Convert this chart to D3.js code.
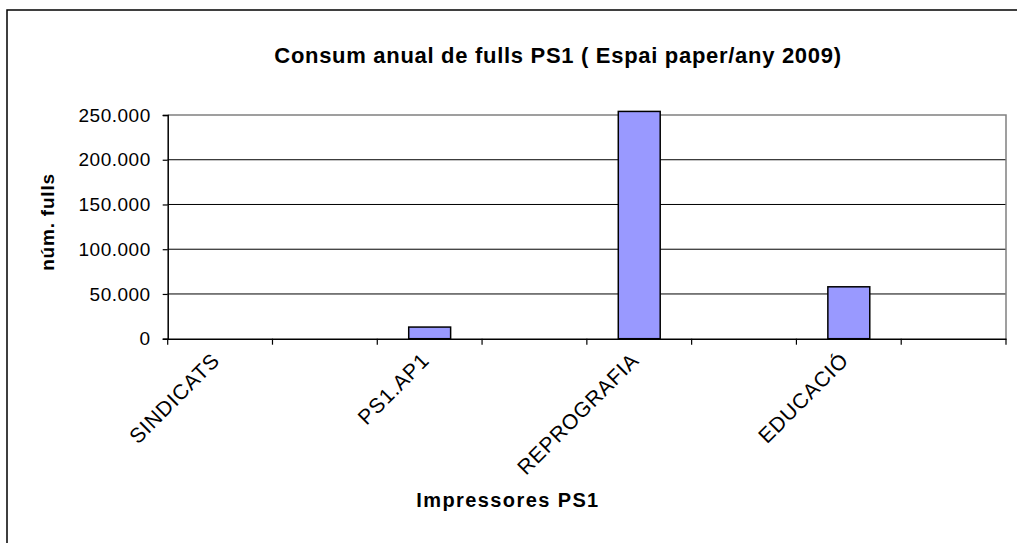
<!DOCTYPE html>
<html>
<head>
<meta charset="utf-8">
<script src="https://cdn.jsdelivr.net/npm/d3@7"></script>
<style>
  html, body { margin: 0; padding: 0; background: #fff; }
  text { font-family: Arial, "Liberation Sans", sans-serif; fill: #000; }
</style>
</head>
<body>
<svg id="chart" width="1017" height="543"></svg>
<script>
// ---- data ----
const categories = ["SINDICATS", "", "PS1.AP1", "", "REPROGRAFIA", "", "EDUCACIÓ", ""];
const values = [0, 0, 13000, 0, 254000, 0, 58000, 0];
const yTicks = [0, 50000, 100000, 150000, 200000, 250000];
const yTickLabels = ["0", "50.000", "100.000", "150.000", "200.000", "250.000"];
const chartTitle = "Consum anual de fulls PS1 ( Espai paper/any 2009)";
const xTitle = "Impressores PS1";
const yTitle = "núm. fulls";

// ---- layout ----
const svg = d3.select("#chart");
const plot = { left: 167.7, right: 1006, top: 115, bottom: 338.7 };

// chart area border
svg.append("rect")
  .attr("x", 7).attr("y", 10)
  .attr("width", 1030).attr("height", 560)
  .attr("fill", "#fff").attr("stroke", "#000").attr("stroke-width", 1.5);

const x = d3.scaleBand()
  .domain(d3.range(categories.length))
  .range([plot.left, plot.right])
  .paddingInner(0).paddingOuter(0);

const y = d3.scaleLinear().domain([0, 250000]).range([plot.bottom, plot.top]);

// gridlines
svg.append("g")
  .selectAll("line")
  .data(yTicks.filter(d => d > 0 && d < 250000))
  .join("line")
  .attr("x1", plot.left).attr("x2", plot.right)
  .attr("y1", d => y(d)).attr("y2", d => y(d))
  .attr("stroke", "#000").attr("stroke-width", 1);

// plot area border (gray top/right)
svg.append("path")
  .attr("d", `M${plot.left},${y(250000)}H${plot.right}V${plot.bottom}`)
  .attr("fill", "none").attr("stroke", "#808080").attr("stroke-width", 1.5);

// bars
const barW = x.bandwidth() / 2.5;
svg.append("g")
  .selectAll("rect")
  .data(values.map((v, i) => ({ v, i })).filter(d => d.v > 0))
  .join("rect")
  .attr("x", d => x(d.i) + (x.bandwidth() - barW) / 2)
  .attr("y", d => y(d.v))
  .attr("width", barW)
  .attr("height", d => y(0) - y(d.v))
  .attr("fill", "#9999FF")
  .attr("stroke", "#000").attr("stroke-width", 1.5);

// y axis
const yAxis = d3.axisLeft(y)
  .tickValues(yTicks)
  .tickFormat((d, i) => yTickLabels[i])
  .tickSize(5).tickPadding(12);
const gy = svg.append("g").attr("transform", `translate(${plot.left},0)`).call(yAxis);
gy.select(".domain").attr("stroke", "#000").attr("stroke-width", 1.5);
gy.selectAll(".tick line").attr("stroke", "#000").attr("stroke-width", 1.2);
gy.selectAll(".tick text")
  .attr("font-size", 19).attr("letter-spacing", 0.5)
  .attr("font-family", "Arial, 'Liberation Sans', sans-serif").attr("fill", "#000");

// x axis line and ticks at category boundaries
const xAxis = d3.axisBottom(x).tickSize(0).tickFormat(() => "");
const gx = svg.append("g").attr("transform", `translate(0,${plot.bottom})`).call(xAxis);
gx.select(".domain").attr("stroke", "#000").attr("stroke-width", 1.5);
gx.selectAll(".tick").remove();
const boundaries = d3.range(categories.length + 1).map(i => i < categories.length ? x(i) : x(categories.length - 1) + x.bandwidth());
gx.selectAll(".bnd")
  .data(boundaries)
  .join("line")
  .attr("class", "bnd")
  .attr("x1", d => d).attr("x2", d => d)
  .attr("y1", 0).attr("y2", 6)
  .attr("stroke", "#000").attr("stroke-width", 1.2);

// category labels rotated -45
svg.append("g")
  .selectAll("text")
  .data(d3.range(categories.length).filter(i => categories[i] !== ""))
  .join("text")
  .attr("transform", i => `translate(${x(i) + x.bandwidth() / 2 + 1},${plot.bottom + 23}) rotate(-45)`)
  .attr("text-anchor", "end")
  .attr("font-size", 21).attr("letter-spacing", 0.8)
  .text(i => categories[i]);

// titles
svg.append("text")
  .attr("x", 558).attr("y", 63)
  .attr("text-anchor", "middle")
  .attr("font-size", 22).attr("font-weight", "bold").attr("letter-spacing", 0.7)
  .text(chartTitle);

svg.append("text")
  .attr("x", 508).attr("y", 507)
  .attr("text-anchor", "middle")
  .attr("font-size", 20).attr("font-weight", "bold").attr("letter-spacing", 1.4)
  .text(xTitle);

svg.append("text")
  .attr("transform", `translate(54,222) rotate(-90)`)
  .attr("text-anchor", "middle")
  .attr("font-size", 19).attr("font-weight", "bold").attr("letter-spacing", 0.8)
  .text(yTitle);
</script>
</body>
</html>
